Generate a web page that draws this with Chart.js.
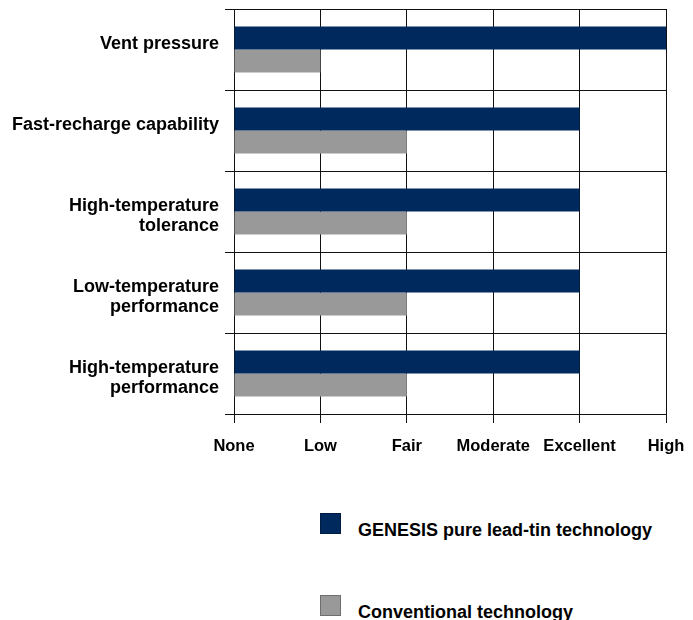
<!DOCTYPE html>
<html>
<head>
<meta charset="utf-8">
<script src="https://cdn.jsdelivr.net/npm/chart.js@4/dist/chart.umd.min.js"></script>
<style>
  html, body { margin: 0; padding: 0; background: #fff; }
  #wrap { position: relative; width: 693px; height: 620px; overflow: hidden; }
  #c { position: absolute; left: 0; top: 0; }
  .lg { position: absolute; font: bold 18px "Liberation Sans", Arial, sans-serif; line-height: 18px; color: #000; white-space: nowrap; }
  .sw { position: absolute; width: 21px; height: 21px; box-sizing: border-box; border: 1px solid; }
</style>
</head>
<body>
<div id="wrap">
  <canvas id="c" width="693" height="470"></canvas>
  <div id="legend"></div>
</div>
<script>
const categories = [
  'Vent pressure',
  'Fast-recharge capability',
  ['High-temperature', 'tolerance'],
  ['Low-temperature', 'performance'],
  ['High-temperature', 'performance']
];
const genesisValues = [5, 4, 4, 4, 4];
const conventionalValues = [1, 2, 2, 2, 2];
const xTickLabels = ['None', 'Low', 'Fair', 'Moderate', 'Excellent', 'High'];
const seriesNames = ['GENESIS pure lead-tin technology', 'Conventional technology'];
const seriesColors = ['#00295E', '#999999'];
const seriesBorders = ['#001C40', '#6E6E6E'];

const FONT = '"Liberation Sans", Arial, sans-serif';

const ctx = document.getElementById('c').getContext('2d');
const chart = new Chart(ctx, {
  type: 'bar',
  data: {
    labels: categories,
    datasets: [
      { label: seriesNames[0], data: genesisValues, backgroundColor: seriesColors[0], borderWidth: 0 },
      { label: seriesNames[1], data: conventionalValues, backgroundColor: seriesColors[1], borderWidth: 0 }
    ]
  },
  options: {
    indexAxis: 'y',
    responsive: false,
    animation: false,
    devicePixelRatio: 1,
    categoryPercentage: 0.57,
    barPercentage: 1.0,
    layout: { padding: { top: 9, right: 27, bottom: 0, left: 0 } },
    plugins: { legend: { display: false }, tooltip: { enabled: false } },
    scales: {
      x: {
        type: 'linear',
        min: 0, max: 5,
        ticks: {
          stepSize: 1,
          padding: 14,
          color: '#000',
          font: { family: FONT, size: 16.5, weight: 'bold' },
          maxRotation: 0,
          callback: (v) => xTickLabels[v]
        },
        grid: { color: '#111', lineWidth: 1, tickLength: 9, drawTicks: true },
        border: { color: '#111', width: 1 },
        afterFit: (s) => { s.height = 56; s.paddingLeft = 0; s.paddingRight = 0; }
      },
      y: {
        type: 'category',
        ticks: {
          padding: 6,
          labelOffset: -5,
          color: '#000',
          font: { family: FONT, size: 18, weight: 'bold', lineHeight: 1.06 },
          callback: (v, i) => {
            const l = categories[i];
            return Array.isArray(l) ? [''].concat(l) : l;
          }
        },
        grid: { color: '#111', lineWidth: 1, tickLength: 9, offset: true },
        border: { color: '#111', width: 1 },
        afterFit: (s) => { s.width = 234; s.paddingTop = 0; s.paddingBottom = 0; }
      }
    }
  }
});

// HTML legend built from the series arrays
const legend = document.getElementById('legend');
const legendTops = [513, 595];
seriesNames.forEach((name, i) => {
  const sw = document.createElement('div');
  sw.className = 'sw';
  sw.style.left = '320px';
  sw.style.top = legendTops[i] + 'px';
  sw.style.background = seriesColors[i];
  sw.style.borderColor = seriesBorders[i];
  legend.appendChild(sw);
  const t = document.createElement('div');
  t.className = 'lg';
  t.style.left = '358px';
  t.style.top = (legendTops[i] + 8) + 'px';
  t.textContent = name;
  legend.appendChild(t);
});
</script>
</body>
</html>
